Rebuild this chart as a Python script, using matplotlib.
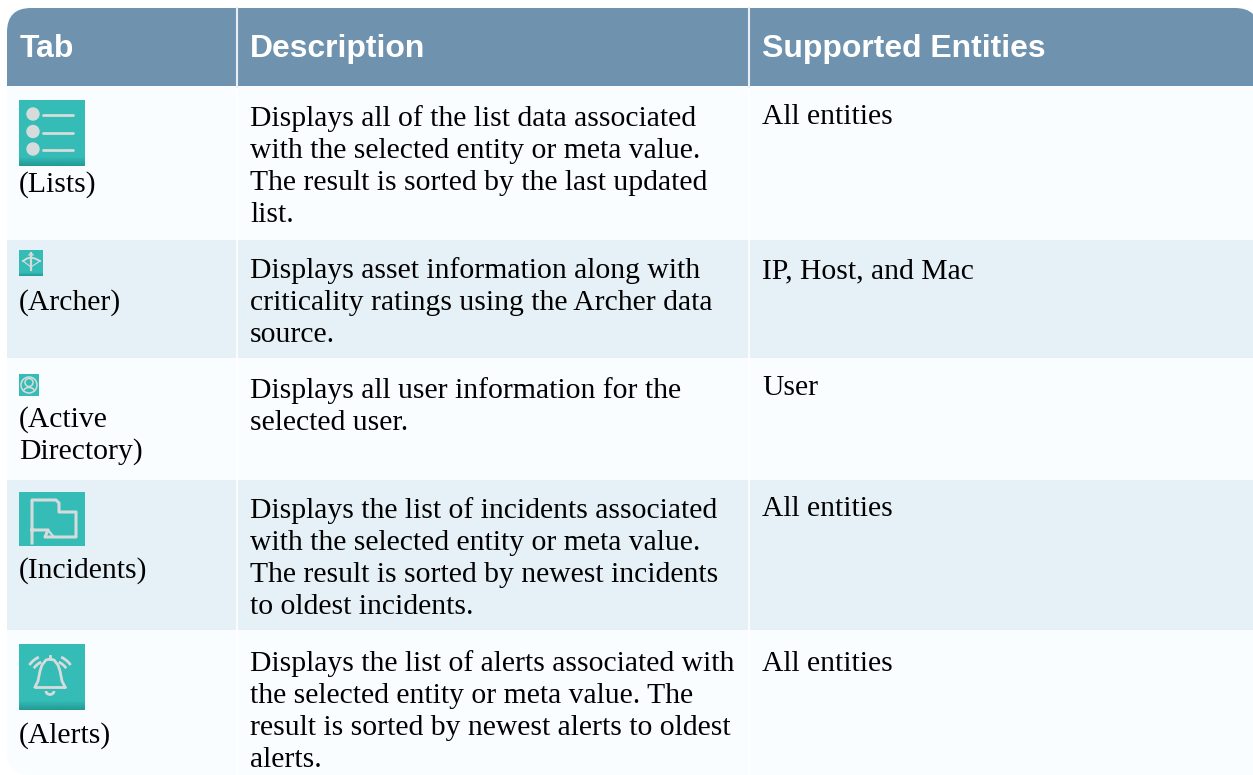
import numpy as np
import matplotlib
matplotlib.use("Agg")
import matplotlib.pyplot as plt
from matplotlib.patches import Rectangle, FancyBboxPatch, Circle, Arc

W, H = 1253, 775

# table content
headers = ["Tab", "Description", "Supported Entities"]
tab_labels = [["(Lists)"], ["(Archer)"], ["(Active", "Directory)"], ["(Incidents)"], ["(Alerts)"]]
descriptions = [
    ["Displays all of the list data associated", "with the selected entity or meta value.",
     "The result is sorted by the last updated", "list."],
    ["Displays asset information along with", "criticality ratings using the Archer data", "source."],
    ["Displays all user information for the", "selected user."],
    ["Displays the list of incidents associated", "with the selected entity or meta value.",
     "The result is sorted by newest incidents", "to oldest incidents."],
    ["Displays the list of alerts associated with", "the selected entity or meta value. The",
     "result is sorted by newest alerts to oldest", "alerts."],
]
entities = ["All entities", "IP, Host, and Mac", "User", "All entities", "All entities"]

# layout in pixels
row_tops = [86, 240, 358, 480, 630, 775]
col_x = [7, 237, 749, 1253]
tab_base = [192, 310, 427, 578, 743]
desc_base = [126, 278, 398, 518, 671]
ent_base = [124, 278, 395, 516, 671]
icon_box = [(19, 100, 66, 66), (19, 250, 24, 26), (19, 374, 20, 22), (19, 492, 66, 54), (19, 644, 66, 66)]
icon_shaded = [True, True, False, False, True]

HEAD = "#6f93af"
ODD = "#f9fdff"
EVEN = "#e5f0f7"
TEAL = "#35bcb6"
TEAL_DARK = "#229c98"
GLYPH = "#d6dcdc"
LINE_H = 32
SERIF = "Liberation Serif"
BODY_SIZE = 21.3

fig = plt.figure(figsize=(W / 100, H / 100), dpi=100)
ax = fig.add_axes([0, 0, 1, 1])
ax.set_xlim(0, W)
ax.set_ylim(H, 0)
ax.axis("off")


def draw_tile(x, y, w, h, shaded):
    grad = np.ones((40, 1, 3)) * matplotlib.colors.to_rgb(TEAL)
    dark = np.array(matplotlib.colors.to_rgb(TEAL_DARK))
    if shaded:
        for i in range(34, 40):
            t = (i - 34) / 5
            grad[i, 0] = grad[i, 0] * (1 - t) + dark * t
    ax.imshow(grad, extent=(x, x + w, y + h, y), aspect="auto", zorder=3)
    ax.set_xlim(0, W)
    ax.set_ylim(H, 0)


def icon_lists(x, y, w, h):
    for dy in [14, 31.5, 49]:
        ax.add_patch(Circle((x + 14, y + dy), 6, color=GLYPH, zorder=4))
        ax.plot([x + 24, x + 54], [y + dy + 1, y + dy + 1], color=GLYPH, lw=2, zorder=4, solid_capstyle="round")


def icon_archer(x, y, w, h):
    cx = x + 12
    ax.plot([cx, cx], [y + 3, y + 20], color=GLYPH, lw=1.6, zorder=4)
    ax.plot([cx - 2, cx, cx + 2], [y + 5, y + 3, y + 5], color=GLYPH, lw=1, zorder=4)
    ax.plot([x + 4, x + 8, cx, x + 16, x + 21], [y + 11, y + 8.5, y + 7.5, y + 8.5, y + 11], color=GLYPH, lw=1.4, zorder=4)
    ax.plot([x + 4, cx, x + 21], [y + 11, y + 17, y + 11], color=GLYPH, lw=0.8, zorder=4)


def icon_user(x, y, w, h):
    cx, cy = x + 10, y + 11
    ax.add_patch(Circle((cx, cy), 8, fill=False, ec=GLYPH, lw=1.1, zorder=4))
    ax.add_patch(Circle((cx, cy - 2.5), 4, fill=False, ec=GLYPH, lw=1.1, zorder=4))
    ax.add_patch(Arc((cx, cy + 6.5), 11, 8, theta1=180, theta2=360, ec=GLYPH, lw=1.1, zorder=4))


def icon_incidents(x, y, w, h):
    # pole and both flags as one outline
    ax.plot([x + 13, x + 13, x + 37, x + 40, x + 40, x + 57, x + 57, x + 26, x + 29, x + 13],
            [y + 51, y + 8, y + 8, y + 11, y + 20, y + 20, y + 45, y + 45, y + 38, y + 38],
            color=GLYPH, lw=2.2, zorder=4, solid_joinstyle="round")
    ax.plot([x + 29, x + 34], [y + 38, y + 44], color=GLYPH, lw=1.6, zorder=4)


def icon_alerts(x, y, w, h):
    cx = x + 31
    ax.plot([cx - 15, cx - 12, cx - 10, cx - 8, cx - 4, cx, cx + 4, cx + 8, cx + 10, cx + 12, cx + 15],
            [y + 43, y + 37, y + 27, y + 21, y + 16, y + 15, y + 16, y + 21, y + 27, y + 37, y + 43],
            color=GLYPH, lw=2, zorder=4)
    ax.plot([cx - 15, cx + 15], [y + 43, y + 43], color=GLYPH, lw=2, zorder=4, solid_capstyle="round")
    ax.plot([cx, cx], [y + 12, y + 15], color=GLYPH, lw=2, zorder=4)
    ax.add_patch(Arc((cx, y + 47), 8, 7, theta1=0, theta2=180, ec=GLYPH, lw=2, zorder=4))
    for r in [20, 25.5]:
        ax.add_patch(Arc((cx, y + 36), 2 * r, 2 * r, theta1=216, theta2=244, ec=GLYPH, lw=2, zorder=4))
        ax.add_patch(Arc((cx, y + 36), 2 * r, 2 * r, theta1=296, theta2=324, ec=GLYPH, lw=2, zorder=4))


# body rows, last one with a rounded corner
for i in range(5):
    color = EVEN if i % 2 else ODD
    top, bottom = row_tops[i], row_tops[i + 1]
    if i == 4:
        box = FancyBboxPatch((7, top - 40), W - 7 + 20, bottom - top + 40, boxstyle="round,pad=0,rounding_size=24",
                             fc=color, ec="none", zorder=1)
        ax.add_patch(box)
        box.set_clip_path(Rectangle((7, top), W - 7, bottom - top, transform=ax.transData))
    else:
        ax.add_patch(Rectangle((7, top), W - 7, bottom - top, fc=color, ec="none", zorder=1))

# column separators
for x in col_x[1:3]:
    ax.plot([x, x], [86, 775], color="white", lw=1.2, zorder=2)

# header band
head = FancyBboxPatch((7, 8), W - 7 + 6, 120, boxstyle="round,pad=0,rounding_size=24", fc=HEAD, ec="none", zorder=2)
ax.add_patch(head)
head.set_clip_path(Rectangle((0, 8), W, 78, transform=ax.transData))
for x in col_x[1:3]:
    ax.plot([x, x], [8, 87], color="#e8eef2", lw=1.5, zorder=3)

for label, x in zip(headers, [20, 250, 762]):
    ax.text(x, 57, label, color="white", fontsize=22.95, fontweight="bold", family="Liberation Sans", va="baseline", zorder=5)

for i in range(5):
    for j, line in enumerate(tab_labels[i]):
        ax.text(19, tab_base[i] + j * LINE_H, line, family=SERIF, fontsize=BODY_SIZE, color="black", va="baseline", zorder=5)
    for j, line in enumerate(descriptions[i]):
        ax.text(250, desc_base[i] + j * LINE_H, line, family=SERIF, fontsize=BODY_SIZE, color="black", va="baseline", zorder=5)
    ax.text(762, ent_base[i], entities[i], family=SERIF, fontsize=BODY_SIZE, color="black", va="baseline", zorder=5)

painters = [icon_lists, icon_archer, icon_user, icon_incidents, icon_alerts]
for box, shaded, paint in zip(icon_box, icon_shaded, painters):
    draw_tile(*box, shaded)
    paint(*box)

fig.savefig("out.png", dpi=100, facecolor="white")
